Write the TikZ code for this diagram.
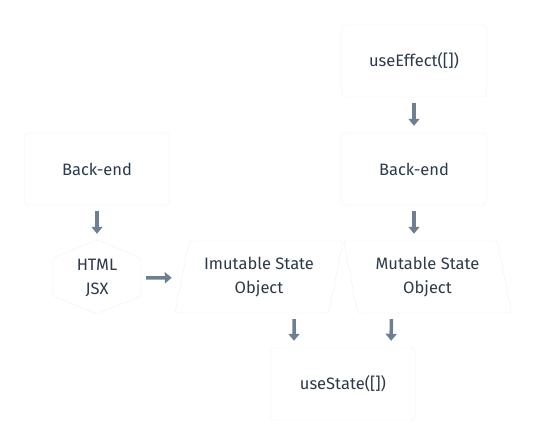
\documentclass[tikz,border=0pt]{standalone}
\usepackage{fontspec}
\setmainfont{Fira Sans}
\usepackage{xcolor}
\usetikzlibrary{arrows.meta,positioning,shapes.geometric}
\definecolor{ink}{HTML}{2C3A4A}
\definecolor{slate}{HTML}{6E7F90}
\definecolor{rim}{HTML}{EFF1F4}
\tikzset{
  lbl/.style={text=ink,font=\fontsize{16.5}{24}\selectfont,align=center},
  box/.style={lbl,rectangle,rounded corners=4pt,draw=rim,fill=white,minimum width=145pt,minimum height=72pt},
  para/.style={lbl,trapezium,trapezium stretches body,draw=rim,fill=white,rounded corners=3pt,minimum width=168pt,minimum height=72pt},
  hexa/.style={lbl,minimum width=88pt,minimum height=74pt},
  arr/.style={slate,line width=3.5pt,-{Triangle[length=7pt,width=11pt]},shorten <=6pt,shorten >=7pt},
}

\begin{document}
\begin{tikzpicture}[x=1pt,y=-1pt]
  \useasboundingbox (0,0) rectangle (536,446);
  % right column
  \node[box] (effect) at (414,61){useEffect([])};
  \node[box] (back2) at (414,169){Back-end};
  % left column
  \node[box] (back1) at (97,169){Back-end};
  \draw[rim,fill=white,rounded corners=3pt] (97,240)--(141,258)--(141,296)--(97,314)--(53,296)--(53,258)--cycle;
  \node[hexa] (html) at (97,278){HTML\\JSX};
  % state objects
  \node[para,trapezium left angle=73,trapezium right angle=107] (imut) at (259,277){Imutable State\\Object};
  \node[para,trapezium left angle=107,trapezium right angle=73] (mut) at (427.5,277){Mutable State\\Object};
  \node[box] (state) at (343,384){useState([])};
  \draw[arr] (effect)--(back2);
  \draw[arr] (back1)--(html);
  \draw[arr,shorten <=5pt,shorten >=10pt] (html.east)--(imut);
  \draw[arr] (back2.south)--(back2.south |- mut.north);
  \draw[arr] ([xshift=35pt]imut.south)--([xshift=-49pt]state.north);
  \draw[arr] ([xshift=-36pt]mut.south)--([xshift=48pt]state.north);
\end{tikzpicture}
\end{document}
